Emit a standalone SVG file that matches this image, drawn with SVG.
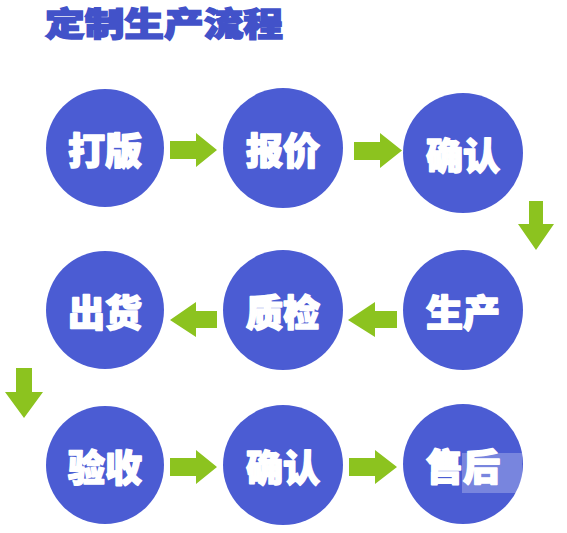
<svg xmlns="http://www.w3.org/2000/svg" width="567" height="533" viewBox="0 0 567 533">
<style>
.c{fill:#4b5cd3}
.t{fill:#ffffff;stroke:#ffffff;stroke-width:1.6;stroke-linejoin:round;font-family:"Noto Sans CJK SC","Noto Sans CJK JP",sans-serif;font-weight:900;font-size:37px;text-anchor:middle;dominant-baseline:central}
.a{fill:#8cc31f}
.title{fill:#4252c9;stroke:#4252c9;stroke-width:1.4;font-family:"Noto Sans CJK SC","Noto Sans CJK JP",sans-serif;font-weight:900;font-size:31px}
</style>
<rect width="567" height="533" fill="#ffffff"/>
<text class="title" transform="translate(45,36) scale(1,1.08)" x="0" y="0" textLength="238" lengthAdjust="spacingAndGlyphs">定制生产流程</text>
<g id="connectors">
<path class="a" d="M170,141 H196 V133 L217,150 L196,167 V159 H170 Z"/>
<path class="a" d="M354,142 H380 V133 L402,150.5 L380,168 V160 H354 Z"/>
<path class="a" d="M529,201 H543 V224 H554 L536,250 L518,224 H529 Z"/>
<path class="a" d="M217,311 H196 V302 L170,320 L196,337 V328 H217 Z"/>
<path class="a" d="M397,311 H375 V302 L348,320 L375,337 V328 H397 Z"/>
<path class="a" d="M16,368 H32 V392 H43 L24,418 L5,392 H16 Z"/>
<path class="a" d="M170,458 H196 V450 L217,467 L196,484 V476 H170 Z"/>
<path class="a" d="M349,458 H375 V450 L397,467 L375,484 V476 H349 Z"/>
</g>
<g id="n1"><circle class="c" cx="105" cy="148" r="59"/><text class="t" x="105" y="149">打版</text></g>
<g id="n2"><circle class="c" cx="283" cy="148" r="60"/><text class="t" x="283" y="149">报价</text></g>
<g id="n3"><circle class="c" cx="463" cy="153" r="60"/><text class="t" x="463" y="154">确认</text></g>
<g id="n4"><circle class="c" cx="463" cy="310" r="60"/><text class="t" x="463" y="311">生产</text></g>
<g id="n5"><circle class="c" cx="283" cy="310" r="60"/><text class="t" x="283" y="311">质检</text></g>
<g id="n6"><circle class="c" cx="105" cy="310" r="59"/><text class="t" x="105" y="311">出货</text></g>
<g id="n7"><circle class="c" cx="105" cy="465" r="59"/><text class="t" x="105" y="466">验收</text></g>
<g id="n8"><circle class="c" cx="283" cy="465" r="60"/><text class="t" x="283" y="466">确认</text></g>
<g id="n9"><circle class="c" cx="463" cy="464" r="60"/><text class="t" x="463" y="465">售后</text></g>
<rect x="462" y="453" width="60" height="40" fill="#ffffff" opacity="0.25"/>
</svg>
